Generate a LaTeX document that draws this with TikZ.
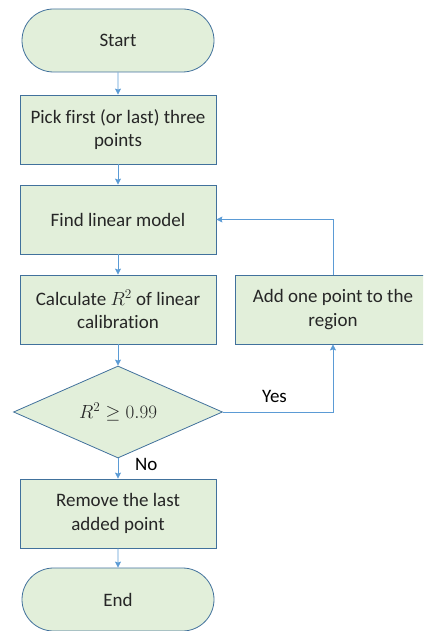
\documentclass[tikz,border=0pt]{standalone}
\usepackage{fix-cm}
\usepackage[no-math]{fontspec}
\setmainfont{Carlito}[Ligatures=NoCommon]
\usepackage{amssymb}
\usetikzlibrary{
  arrows.meta,
  shapes.misc,
  shapes.geometric,
  chains,
  positioning,
  scopes
}
\definecolor{boxfill}{HTML}{E2EFDA}
\definecolor{boxline}{HTML}{41719C}
\definecolor{flowline}{HTML}{5B9BD5}

\begin{document}
\begin{tikzpicture}[x=1pt,y=1pt,
      node distance=20.2pt,
      process/.style={
         rectangle,
         anchor=center,
         minimum width=196pt,
         minimum height=69pt,
         line width=0.8pt,
         draw=boxline,
         fill=boxfill,
         align=center,
         text=black!85,
         font=\fontsize{19}{23.5}\selectfont,
         inner sep=2pt
      },
      terminal/.style={
         process,
         rounded rectangle,
         minimum height=63pt
      },
      decision/.style={
         process,
         diamond,
         aspect=2.27,
         minimum width=209pt,
         minimum height=92pt,
         inner sep=0pt
      },
      answer/.style={
         font=\fontsize{19}{23.5}\selectfont,
         inner sep=1pt
      },
      >={Stealth[length=6pt,width=6pt,inset=1pt]},
      tip/.style={->},
      every join/.style={draw=flowline,line width=0.8pt},
      hv path/.style={to path={-| (\tikztotarget)}},
      vh path/.style={to path={|- (\tikztotarget)}}
    ]
    \clip (0,0) rectangle (423,-631);
    \node (n11) [terminal] at (118,-40.5) {Start};
    \node (n21) [process, below=22.2pt of n11] {Pick first (or last) three\\points};
    \node (n31) [process, below=of n21] {Find linear model};
    \node (n41) [process, below=of n31] {Calculate $R^2$ of linear\\calibration};
    \node (n42) [process, right=18.2pt of n41] {Add one point to the\\region};
    \node (n51) [decision, below=21.2pt of n41] {$R^2 \geq 0.99$};
    \node (n61) [process, below=of n51] {Remove the last\\added point};
    \node (n71) [terminal, below=19.2pt of n61] {End};
  { [start chain]
       \chainin (n11);
       \chainin (n21)    [join=by tip];
  }
  { [start chain]
       \chainin (n21);
       \chainin (n31)    [join=by tip];
  }
  { [start chain]
       \chainin (n31);
       \chainin (n41)    [join=by tip];
  }
  { [start chain]
       \chainin (n41);
       \chainin (n51)    [join=by tip];
  }
  { [start chain]
       \chainin (n51);
       \chainin (n61)    [join=by tip];
  }
  { [start chain]
       \chainin (n61);
       \chainin (n71)    [join=by tip];
  }
  { [start chain]
       \chainin (n51);
       \chainin (n42)    [join=by {hv path,tip}];
  }
  { [start chain]
       \chainin (n42);
       \chainin (n31)    [join=by {vh path,tip}];
  }
    \node (yes) [answer, above right=8pt and 38pt of n51.east] {Yes};
    \node (no) [answer, below right=-1pt and 16pt of n51.south] {No};
\end{tikzpicture}
\end{document}
